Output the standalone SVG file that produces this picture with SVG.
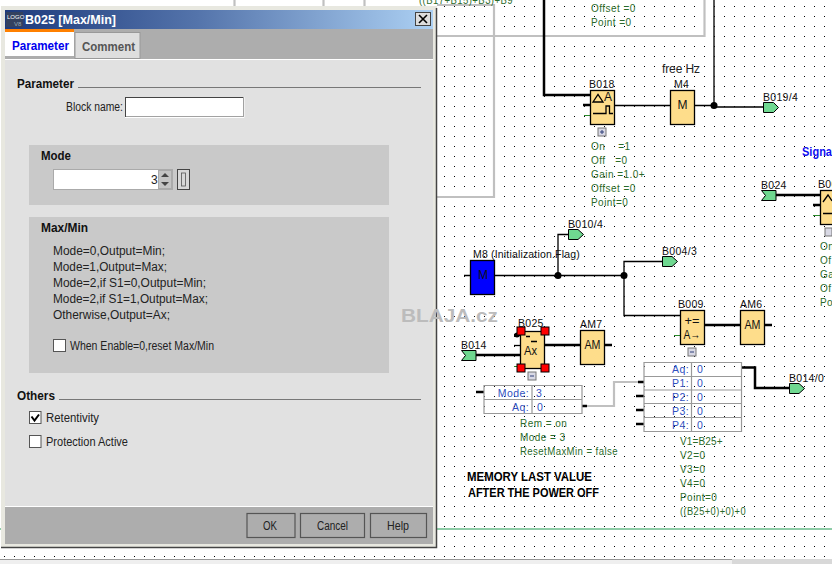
<svg xmlns="http://www.w3.org/2000/svg" width="832" height="564" viewBox="0 0 832 564">
<style>
text{font-family:"Liberation Sans",Arial,sans-serif}
.lb{font-size:10.5px;fill:#111;letter-spacing:.3px}
.gr{font-size:10px;fill:#2b6b2b;letter-spacing:.45px}
.bl{font-size:10.5px;fill:#3050c0;letter-spacing:.4px}
.bk{fill:#fedd8b;stroke:#000;stroke-width:1.3}
.h{fill:#ff0000;stroke:#000;stroke-width:1}
.w{fill:none;stroke:#000;stroke-width:1.3}
.t{fill:none;stroke:#000;stroke-width:2.5}
.g{fill:none;stroke:#c0c0c0;stroke-width:2.2}
.gs{fill:none;stroke:#2b8a2b;stroke-width:1}
.fl{fill:#6fd890;stroke:#000;stroke-width:1}
.tb{fill:none;stroke:#999;stroke-width:1.2}
.bx{fill:#d8d8e4;stroke:#777;stroke-width:1}
.sg{fill:none;stroke:#30407a;stroke-width:1}
.big{font-size:12.5px;fill:#111;text-anchor:middle}
.dh{font-size:12px;font-weight:bold;fill:#111}
.dt{font-size:12px;fill:#222}
.pan{fill:#c9c9c9}
.cb{fill:#fff;stroke:#555;stroke-width:1}
.btn{fill:#adadad;stroke:#555;stroke-width:1.2}
</style>
<defs>
<pattern id="dots" width="10" height="10" patternUnits="userSpaceOnUse"><rect x="4" y="6" width="1" height="1" fill="#000"/></pattern>
<linearGradient id="tbar" x1="0" x2="1" y1="0" y2="0"><stop offset="0" stop-color="#1d3a7c"/><stop offset=".45" stop-color="#5474ab"/><stop offset="1" stop-color="#acd0f3"/></linearGradient>
</defs>
<rect width="832" height="564" fill="#fff"/>
<rect width="832" height="559" fill="url(#dots)"/>
<g id="connectors">
<path class="g" d="M234.500 0V6M323.500 0V6M364.500 0V6M437 5H494V197H437M437 36H704.500V0"/>
<path d="M437 529H832M0 529H2" stroke="#1f9a50" stroke-width="1" fill="none"/>
<path class="t" d="M544 0V95H590"/>
<path class="w" d="M714 0V105M614 105.500H670M694 105.500H714V107H763"/>
<path class="t" d="M776 195H820M813 205H820"/>
<path class="gs" d="M813 215.500H820M584 115.500H590M674 335.500H680M514 366.500H520"/>
<path class="t" d="M583 105H590"/>
<path class="w" d="M464 275.500H470M494 275.500H624M558 275.500V234.500H568M624 275.500V261.500H662M624 275.500V315.500H680"/>
<path class="t" d="M704 325H740M764 325H772M544 345H580M604 345H612M476 355H520M514 335H520"/>
<path class="w" d="M514 345.500H520"/>
<path class="t" d="M476 392H484M582 406H587M638 382H644M636 396H644M636 410H644M636 424H644"/>
<path class="g" d="M587 406H614V382H638"/>
<path class="t" d="M741 367.500H755V388H789"/>
<circle cx="714" cy="105.500" r="3.500"/><circle cx="558" cy="275.500" r="3.500"/><circle cx="624" cy="275.500" r="3.500"/><circle cx="517" cy="335" r="2.500"/>
</g>
<g id="top-params">
<text class="gr" x="419" y="4" textLength="94" lengthAdjust="spacingAndGlyphs">((B17+B15)+B3)+B9</text>
<text class="gr" x="591" y="12">Offset =0</text>
<text class="gr" x="591" y="26">Point =0</text>
</g>
<g id="B018">
<rect class="bk" x="590.500" y="90.500" width="24" height="34"/>
<path class="w" d="M593 102L598 94.500L603 102ZM593 113.500H606V106H609.500V113.500H613"/>
<text x="608" y="101" font-size="12" fill="#111" text-anchor="middle">A</text>
<text class="lb" x="589" y="88">B018</text>
<rect class="bx" x="598" y="128" width="8" height="8"/><path class="sg" d="M600 132H604M602 130V134"/>
<text class="gr" x="591" y="150" xml:space="preserve">On    =1</text>
<text class="gr" x="591" y="164" xml:space="preserve">Off   =0</text>
<text class="gr" x="591" y="178">Gain  =1.0+</text>
<text class="gr" x="591" y="192">Offset =0</text>
<text class="gr" x="591" y="206">Point=0</text>
</g>
<g id="M4">
<rect class="bk" x="670.500" y="90.500" width="24" height="34"/>
<text class="big" x="682.500" y="109" textLength="10" lengthAdjust="spacingAndGlyphs">M</text>
<text class="lb" x="674" y="88">M4</text>
<text x="662" y="73" font-size="12" fill="#222" textLength="38">free Hz</text>
</g>
<g id="B019-4">
<path class="fl" d="M763.500 102.500H773.500L778.500 107.500L773.500 112.500H763.500Z"/>
<text class="lb" x="763" y="101">B019/4</text>
</g>
<text x="802" y="156" font-size="12" font-weight="bold" fill="#1010f0" textLength="30" lengthAdjust="spacingAndGlyphs">Signa</text>
<g id="B024">
<path class="fl" d="M761.500 190.500H776V200.500H761.500L765.500 195.500Z"/>
<text class="lb" x="761" y="189">B024</text>
</g>
<g id="B00x">
<rect class="bk" x="820.500" y="190.500" width="24" height="34"/>
<path class="w" d="M823 202L828 195L832 201M823 213.500H832"/>
<text class="lb" x="818" y="188">B00</text>
<rect class="bx" x="825" y="228" width="7" height="8"/>
<text class="gr" x="820" y="250">On</text>
<text class="gr" x="820" y="264">Of</text>
<text class="gr" x="820" y="278">Ga</text>
<text class="gr" x="820" y="292">Of</text>
<text class="gr" x="820" y="306">Po</text>
</g>
<g id="B010-4">
<path class="fl" d="M568.500 229.500H578L583.500 234.500L578 239.500H568.500Z"/>
<text class="lb" x="568" y="228">B010/4</text>
</g>
<g id="M8">
<rect x="470.500" y="260.500" width="24" height="34" fill="#0000ff" stroke="#000" stroke-width="1.300"/>
<text class="big" x="483" y="279" textLength="10" lengthAdjust="spacingAndGlyphs">M</text>
<text class="lb" x="473" y="258" textLength="107">M8 (Initialization.Flag)</text>
</g>
<g id="B004-3">
<path class="fl" d="M662.500 256.500H672L677.500 261.500L672 266.500H662.500Z"/>
<text class="lb" x="662" y="255">B004/3</text>
</g>
<g id="B009">
<rect class="bk" x="680.500" y="310.500" width="24" height="34"/>
<text class="big" x="692" y="325" textLength="15" lengthAdjust="spacingAndGlyphs">+=</text>
<text class="big" x="692" y="339" textLength="17" lengthAdjust="spacingAndGlyphs">A→</text>
<text class="lb" x="678" y="308">B009</text>
<rect class="bx" x="688" y="348" width="8" height="8"/><path class="sg" d="M690 352H694"/>
</g>
<g id="AM6">
<rect class="bk" x="740.500" y="310.500" width="24" height="34"/>
<text class="big" x="752.500" y="329" textLength="16" lengthAdjust="spacingAndGlyphs">AM</text>
<text class="lb" x="740" y="308">AM6</text>
</g>
<g id="B014">
<path class="fl" d="M461.500 350.500H476V360.500H461.500L465.500 355.500Z"/>
<text class="lb" x="461" y="349">B014</text>
</g>
<g id="B025">
<rect class="bk" x="520.500" y="331.500" width="24" height="37"/>
<path class="w" d="M526 336.500H530M531 341.500H537"/>
<text class="big" x="530.500" y="355" textLength="13" lengthAdjust="spacingAndGlyphs">Ax</text>
<text class="lb" x="518" y="327">B025</text>
<rect class="h" x="517" y="327" width="8" height="8"/><rect class="h" x="541" y="327" width="8" height="8"/>
<rect class="h" x="517" y="364" width="8" height="8"/><rect class="h" x="541" y="364" width="8" height="8"/>
<rect class="bx" x="528" y="372" width="8" height="8"/><path class="sg" d="M530 376H534"/>
</g>
<g id="AM7">
<rect class="bk" x="580.500" y="330.500" width="24" height="34"/>
<text class="big" x="592.500" y="349" textLength="16" lengthAdjust="spacingAndGlyphs">AM</text>
<text class="lb" x="580" y="328">AM7</text>
</g>
<g id="table-B025">
<path class="tb" d="M484 385.500H582V413.500H484ZM484 399.500H582M532 385.500V413.500"/>
<text class="bl" x="529" y="397" text-anchor="end">Mode:</text><text class="bl" x="536" y="397">3</text>
<text class="bl" x="529" y="411" text-anchor="end">Aq:</text><text class="bl" x="537" y="411">0</text>
<text class="gr" x="520" y="427">Rem = on</text>
<text class="gr" x="520" y="441">Mode = 3</text>
<text class="gr" x="520" y="455" textLength="98" lengthAdjust="spacingAndGlyphs">ResetMaxMin = false</text>
</g>
<g id="table-B009">
<path class="tb" d="M644 362.500H741.500V431.500H644ZM644 376.500H741.500M644 390H741.500M644 403.500H741.500M644 417.500H741.500M691.500 362.500V431.500"/>
<text class="bl" x="689" y="373" text-anchor="end">Aq:</text><text class="bl" x="697" y="373">0</text>
<text class="bl" x="689" y="387" text-anchor="end">P1:</text><text class="bl" x="697" y="387">0</text>
<text class="bl" x="689" y="401" text-anchor="end">P2:</text><text class="bl" x="697" y="401">0</text>
<text class="bl" x="689" y="415" text-anchor="end">P3:</text><text class="bl" x="697" y="415">0</text>
<text class="bl" x="689" y="429" text-anchor="end">P4:</text><text class="bl" x="697" y="429">0</text>
<text class="gr" x="680" y="445" textLength="43">V1=B25+</text>
<text class="gr" x="680" y="459">V2=0</text>
<text class="gr" x="680" y="473">V3=0</text>
<text class="gr" x="680" y="487">V4=0</text>
<text class="gr" x="680" y="501">Point=0</text>
<text class="gr" x="680" y="515" textLength="66" lengthAdjust="spacingAndGlyphs">((B25+0)+0)+0</text>
</g>
<g id="B014-0">
<path class="fl" d="M789.500 383.500H799L804.500 388.500L799 393.500H789.500Z"/>
<text class="lb" x="789" y="382">B014/0</text>
</g>
<g id="note">
<text x="467" y="481" font-size="12" font-weight="bold" fill="#000" textLength="125" lengthAdjust="spacingAndGlyphs">MEMORY LAST VALUE</text>
<text x="468" y="497" font-size="12" font-weight="bold" fill="#000" textLength="131" lengthAdjust="spacingAndGlyphs">AFTER THE POWER OFF</text>
</g>
<g id="window-bottom">
<rect x="0" y="559" width="732" height="5" fill="#efefef"/><rect x="732" y="559" width="100" height="5" fill="#d8d8d8"/>
<path d="M0 559.500H732" stroke="#999"/>
</g>
<g id="dialog">
<rect x="1" y="6" width="436" height="541.500" fill="#e8e8e0"/>
<path d="M436.500 8V547.500H1" fill="none" stroke="#444" stroke-width="1.500"/>
<rect x="5" y="10" width="428" height="534" fill="#e1e1e1"/>
<rect x="5" y="10" width="428" height="19" fill="url(#tbar)"/>
<rect x="6" y="12" width="17" height="15" fill="#33415f"/>
<text x="7" y="19" font-size="6" fill="#fff">LOGO</text><text x="14" y="26" font-size="6" fill="#9ab">V8</text>
<text x="25" y="24" font-size="12.500" font-weight="bold" fill="#fff" textLength="91" lengthAdjust="spacingAndGlyphs">B025 [Max/Min]</text>
<rect x="415.500" y="12.500" width="15" height="13" fill="#ddd" stroke="#444"/>
<path d="M419 15L427 23M427 15L419 23" stroke="#000" stroke-width="1.600"/>
<rect x="5" y="29" width="428" height="30" fill="#adadad"/>
<rect x="5" y="59" width="428" height="1" fill="#fff"/>
<rect x="5" y="31" width="69" height="25" fill="#fff"/><rect x="5" y="29" width="69" height="3" fill="#ff8000"/>
<rect x="75" y="32.500" width="65" height="26" fill="#dedede" stroke="#999"/>
<text x="12" y="50" font-size="12" font-weight="bold" fill="#0000ee" textLength="57" lengthAdjust="spacingAndGlyphs">Parameter</text>
<text x="82" y="51" font-size="12" font-weight="bold" fill="#555" textLength="53" lengthAdjust="spacingAndGlyphs">Comment</text>
<text class="dh" x="17" y="88" textLength="57" lengthAdjust="spacingAndGlyphs">Parameter</text>
<path d="M78 87.500H421M59 399.500H421" stroke="#777" stroke-width="1"/>
<text class="dt" x="66" y="111" textLength="57" lengthAdjust="spacingAndGlyphs">Block name:</text>
<rect x="125.500" y="97.500" width="118" height="19.500" fill="#fff" stroke="#444"/>
<path d="M244 97V117.500H125" fill="none" stroke="#fff"/>
<rect class="pan" x="29" y="145" width="360" height="60"/>
<text class="dh" x="41" y="160" textLength="30" lengthAdjust="spacingAndGlyphs">Mode</text>
<rect x="53.500" y="169.500" width="119" height="20" fill="#fff" stroke="#aaa"/>
<text class="dt" x="151" y="184">3</text>
<rect x="158.500" y="170.500" width="13" height="18" fill="#c4c4c4" stroke="#aaa"/>
<path d="M161 177H169L165 173ZM161 182H169L165 186Z" fill="#444"/>
<rect x="177.500" y="169.500" width="12" height="20" fill="#d8d8d8" stroke="#444"/>
<rect x="181.500" y="173" width="4" height="13" fill="none" stroke="#555" stroke-width=".8"/>
<rect class="pan" x="29" y="217" width="360" height="156"/>
<text class="dh" x="41" y="232" textLength="47" lengthAdjust="spacingAndGlyphs">Max/Min</text>
<text class="dt" x="53" y="255" textLength="112" lengthAdjust="spacingAndGlyphs">Mode=0,Output=Min;</text>
<text class="dt" x="53" y="271" textLength="114" lengthAdjust="spacingAndGlyphs">Mode=1,Output=Max;</text>
<text class="dt" x="53" y="287" textLength="153" lengthAdjust="spacingAndGlyphs">Mode=2,if S1=0,Output=Min;</text>
<text class="dt" x="53" y="303" textLength="155" lengthAdjust="spacingAndGlyphs">Mode=2,if S1=1,Output=Max;</text>
<text class="dt" x="53" y="319" textLength="117" lengthAdjust="spacingAndGlyphs">Otherwise,Output=Ax;</text>
<rect class="cb" x="53.500" y="339.500" width="12" height="12"/>
<text class="dt" x="70" y="350" textLength="144" lengthAdjust="spacingAndGlyphs">When Enable=0,reset Max/Min</text>
<text class="dh" x="17" y="400" textLength="38" lengthAdjust="spacingAndGlyphs">Others</text>
<rect class="cb" x="29.500" y="411.500" width="11.500" height="12"/>
<path d="M31.500 416.500L34.500 420.500L39 414.500" fill="none" stroke="#000" stroke-width="2"/>
<text class="dt" x="46" y="422" textLength="53" lengthAdjust="spacingAndGlyphs">Retentivity</text>
<rect class="cb" x="29.500" y="435.500" width="11.500" height="12"/>
<text class="dt" x="46" y="446" textLength="82" lengthAdjust="spacingAndGlyphs">Protection Active</text>
<rect x="5" y="506" width="428" height="1" fill="#fff"/>
<rect x="5" y="507" width="428" height="37" fill="#adadad"/>
<rect class="btn" x="247" y="513.500" width="48" height="24" stroke="#222"/>
<rect class="btn" x="300.500" y="513.500" width="64" height="24"/>
<rect class="btn" x="370.500" y="513.500" width="56" height="24"/>
<text class="dt" x="263" y="530" textLength="14" lengthAdjust="spacingAndGlyphs">OK</text>
<text class="dt" x="317" y="530" textLength="31" lengthAdjust="spacingAndGlyphs">Cancel</text>
<text class="dt" x="387" y="530" textLength="22" lengthAdjust="spacingAndGlyphs">Help</text>
</g>
<text id="watermark" x="401" y="322" font-size="19" font-weight="bold" fill="#bcbcbc" textLength="97" lengthAdjust="spacingAndGlyphs">BLAJA.cz</text>
</svg>
